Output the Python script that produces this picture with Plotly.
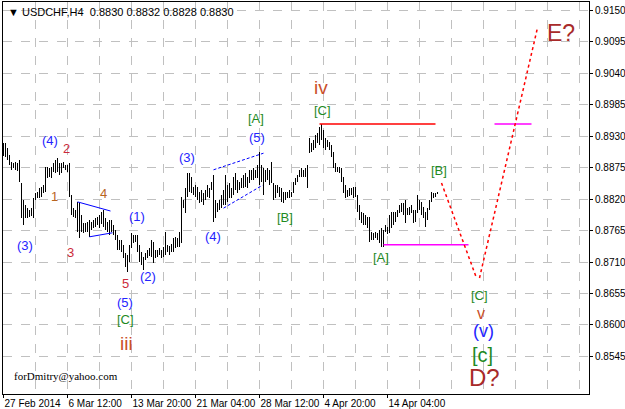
import plotly.graph_objects as go

# ---------------- data (USDCHF H4, bars indexed from 27 Feb 2014 00:00) ----------------
highs = [0.8918, 0.8918, 0.8909, 0.8897, 0.8885, 0.8883, 0.8885, 0.8883, 0.8888, 0.8848,
         0.8818, 0.8810, 0.8804, 0.8801, 0.8804, 0.8822, 0.8830, 0.8832, 0.8839, 0.8841,
         0.8844, 0.8876, 0.8876, 0.8874, 0.8876, 0.8883, 0.8888, 0.8892, 0.8883, 0.8883,
         0.8885, 0.8879, 0.8879, 0.8883, 0.8827, 0.8804, 0.8801, 0.8815, 0.8813, 0.8792,
         0.8778, 0.8778, 0.8780, 0.8783, 0.8780, 0.8783, 0.8787, 0.8789, 0.8792, 0.8797,
         0.8801, 0.8787, 0.8780, 0.8783, 0.8783, 0.8775, 0.8766, 0.8757, 0.8748, 0.8748,
         0.8740, 0.8726, 0.8722, 0.8740, 0.8761, 0.8757, 0.8757, 0.8757, 0.8740, 0.8727,
         0.8719, 0.8726, 0.8731, 0.8734, 0.8748, 0.8745, 0.8731, 0.8731, 0.8734, 0.8731,
         0.8736, 0.8762, 0.8740, 0.8738, 0.8741, 0.8752, 0.8754, 0.8752, 0.8762, 0.8823,
         0.8818, 0.8839, 0.8865, 0.8865, 0.8858, 0.8841, 0.8844, 0.8841, 0.8832, 0.8836,
         0.8830, 0.8836, 0.8844, 0.8839, 0.8850, 0.8862, 0.8818, 0.8813, 0.8818, 0.8827,
         0.8836, 0.8862, 0.8844, 0.8848, 0.8839, 0.8858, 0.8865, 0.8853, 0.8850, 0.8857,
         0.8862, 0.8865, 0.8858, 0.8871, 0.8871, 0.8874, 0.8871, 0.8879, 0.8902, 0.8879,
         0.8874, 0.8871, 0.8874, 0.8871, 0.8885, 0.8848, 0.8844, 0.8844, 0.8841, 0.8839,
         0.8832, 0.8832, 0.8832, 0.8836, 0.8832, 0.8850, 0.8857, 0.8862, 0.8871, 0.8874,
         0.8871, 0.8874, 0.8879, 0.8927, 0.8918, 0.8923, 0.8932, 0.8935, 0.8946, 0.8951,
         0.8940, 0.8927, 0.8923, 0.8920, 0.8914, 0.8902, 0.8883, 0.8876, 0.8876, 0.8874,
         0.8858, 0.8844, 0.8836, 0.8839, 0.8839, 0.8841, 0.8841, 0.8827, 0.8810, 0.8797,
         0.8796, 0.8792, 0.8789, 0.8789, 0.8762, 0.8761, 0.8762, 0.8761, 0.8766, 0.8769,
         0.8766, 0.8775, 0.8771, 0.8792, 0.8797, 0.8797, 0.8797, 0.8801, 0.8810, 0.8813,
         0.8813, 0.8818, 0.8804, 0.8806, 0.8810, 0.8801, 0.8801, 0.8827, 0.8818, 0.8815,
         0.8806, 0.8797, 0.8804, 0.8818, 0.8832, 0.8830, 0.8830, 0.8832]
lows = [0.8895, 0.8893, 0.8888, 0.8879, 0.8871, 0.8874, 0.8871, 0.8869, 0.8850, 0.8787,
        0.8775, 0.8787, 0.8787, 0.8789, 0.8790, 0.8787, 0.8818, 0.8822, 0.8822, 0.8823,
        0.8830, 0.8832, 0.8857, 0.8858, 0.8857, 0.8867, 0.8865, 0.8867, 0.8862, 0.8865,
        0.8874, 0.8871, 0.8867, 0.8823, 0.8792, 0.8789, 0.8787, 0.8762, 0.8752, 0.8762,
        0.8761, 0.8762, 0.8762, 0.8754, 0.8766, 0.8769, 0.8771, 0.8775, 0.8769, 0.8776,
        0.8771, 0.8766, 0.8762, 0.8757, 0.8762, 0.8757, 0.8748, 0.8731, 0.8731, 0.8727,
        0.8717, 0.8701, 0.8692, 0.8710, 0.8734, 0.8743, 0.8745, 0.8727, 0.8710, 0.8705,
        0.8696, 0.8713, 0.8717, 0.8720, 0.8719, 0.8708, 0.8717, 0.8719, 0.8722, 0.8717,
        0.8719, 0.8722, 0.8727, 0.8722, 0.8727, 0.8727, 0.8734, 0.8736, 0.8736, 0.8743,
        0.8804, 0.8796, 0.8823, 0.8832, 0.8830, 0.8827, 0.8823, 0.8818, 0.8813, 0.8815,
        0.8810, 0.8818, 0.8823, 0.8822, 0.8836, 0.8780, 0.8787, 0.8797, 0.8801, 0.8804,
        0.8810, 0.8810, 0.8815, 0.8822, 0.8822, 0.8827, 0.8836, 0.8830, 0.8836, 0.8839,
        0.8839, 0.8841, 0.8839, 0.8848, 0.8853, 0.8853, 0.8857, 0.8857, 0.8844, 0.8850,
        0.8827, 0.8850, 0.8853, 0.8844, 0.8848, 0.8818, 0.8822, 0.8830, 0.8823, 0.8815,
        0.8813, 0.8818, 0.8822, 0.8822, 0.8823, 0.8830, 0.8844, 0.8850, 0.8858, 0.8858,
        0.8858, 0.8858, 0.8839, 0.8900, 0.8902, 0.8906, 0.8909, 0.8918, 0.8914, 0.8923,
        0.8909, 0.8906, 0.8911, 0.8906, 0.8893, 0.8874, 0.8867, 0.8867, 0.8865, 0.8850,
        0.8830, 0.8822, 0.8823, 0.8825, 0.8827, 0.8822, 0.8823, 0.8797, 0.8783, 0.8778,
        0.8775, 0.8775, 0.8769, 0.8745, 0.8748, 0.8748, 0.8752, 0.8748, 0.8743, 0.8736,
        0.8736, 0.8762, 0.8759, 0.8761, 0.8769, 0.8775, 0.8780, 0.8789, 0.8796, 0.8797,
        0.8792, 0.8778, 0.8792, 0.8792, 0.8796, 0.8778, 0.8780, 0.8796, 0.8801, 0.8792,
        0.8787, 0.8771, 0.8783, 0.8801, 0.8815, 0.8822, 0.8823, 0.8828]

date_tick_bars = [0, 32, 64, 96, 128, 160, 192]
date_tick_labels = ["27 Feb 2014", "6 Mar 12:00", "13 Mar 20:00", "21 Mar 04:00",
                    "28 Mar 12:00", "4 Apr 20:00", "14 Apr 04:00"]
price_ticks = [0.8545, 0.8600, 0.8655, 0.8710, 0.8765, 0.8820, 0.8875,
               0.8930, 0.8985, 0.9040, 0.9095, 0.9150]

# drawn objects (bar index, price)
triangle_upper = ([37, 53.5], [0.8815, 0.8799])
triangle_lower = ([43, 54.5], [0.8754, 0.8761])
wedge_upper = ([105, 130], [0.8871, 0.8900])
wedge_lower = ([110, 129.5], [0.8804, 0.8844])
resist_line = ([158, 216], [0.8951, 0.8951])
support_line = ([190, 232.5], [0.8740, 0.8740])
target_line = ([245.5, 264], [0.8951, 0.8951])
proj_down = ([219, 236.5], [0.8848, 0.8682])
proj_up = ([238, 267], [0.8682, 0.9119])

BLUE = "#2424ff"
RED_N = "#cc2a3a"
BROWN_N = "#b8651f"
ROMAN = "#c9502a"
GREEN = "#1f8a1f"
DARK = "#a82a2a"
wave_labels = [
    ("(4)", 23.25, 0.8923, BLUE, 13), ("2", 31.25, 0.8909, RED_N, 13),
    ("1", 25.25, 0.8825, BROWN_N, 13), ("4", 49.75, 0.8830, BROWN_N, 13),
    ("(3)", 10.75, 0.8738, BLUE, 13), ("3", 33.25, 0.8726, RED_N, 13),
    ("(1)", 66.75, 0.8790, BLUE, 13), ("5", 60.75, 0.8673, RED_N, 13),
    ("(2)", 72.25, 0.8684, BLUE, 13), ("(5)", 60.75, 0.8640, BLUE, 13),
    ("[C]", 60.75, 0.8609, GREEN, 13), ("iii", 61.25, 0.8567, ROMAN, 19),
    ("(3)", 91.75, 0.8893, BLUE, 13), ("(4)", 104.75, 0.8755, BLUE, 13),
    ("[A]", 126.25, 0.8960, GREEN, 13), ("(5)", 126.75, 0.8928, BLUE, 13),
    ("[B]", 140.75, 0.8787, GREEN, 13), ("iv", 158.75, 0.9014, ROMAN, 19),
    ("[C]", 159.25, 0.8975, GREEN, 13), ("[A]", 188.75, 0.8717, GREEN, 13),
    ("[B]", 217.75, 0.8869, GREEN, 13), ("[C]", 237.75, 0.8651, GREEN, 13),
    ("v", 238.75, 0.8620, ROMAN, 16), ("(v)", 239.75, 0.8589, BLUE, 18),
    ("[c]", 239.25, 0.8548, GREEN, 20), ("D?", 240.25, 0.8508, DARK, 24),
    ("E?", 278.75, 0.9110, DARK, 23),
]

# ---------------- figure ----------------
idx = list(range(len(highs)))
fig = go.Figure()
fig.add_trace(go.Bar(x=idx, y=[h - l for h, l in zip(highs, lows)], base=lows,
                     width=0.5, marker=dict(color="black", line=dict(width=0)),
                     showlegend=False, hoverinfo="skip"))

def add_line(pts, color, width=1, dash=None):
    fig.add_trace(go.Scatter(x=pts[0], y=pts[1], mode="lines",
                             line=dict(color=color, width=width, dash=dash),
                             showlegend=False, hoverinfo="skip"))

add_line(triangle_upper, "#0000ff")
add_line(triangle_lower, "#0000ff")
add_line(wedge_upper, "#0000ff", dash="3px,2px")
add_line(wedge_lower, "#0000ff", dash="3px,2px")
add_line(resist_line, "#ff0000", width=1.5)
add_line(support_line, "#ff00ff", width=1.5)
add_line(target_line, "#ff00ff", width=1.5)
add_line(proj_down, "#ff0000", width=1.5, dash="3px,3px")
add_line(proj_up, "#ff0000", width=1.5, dash="3px,3px")

for txt, xi, yp, col, sz in wave_labels:
    fig.add_annotation(x=xi, y=yp, text=txt, showarrow=False,
                       font=dict(family="Liberation Sans", size=sz, color=col),
                       xanchor="center", yanchor="middle")

fig.add_annotation(xref="paper", yref="paper", x=0.005, y=0.995, xanchor="left", yanchor="top",
                   text="▼ USDCHF,H4  0.8830 0.8832 0.8828 0.8830", showarrow=False,
                   font=dict(family="Liberation Sans", size=11, color="black"))
fig.add_annotation(xref="paper", yref="paper", x=0.015, y=0.045, xanchor="left", yanchor="middle",
                   text="forDmitry@yahoo.com", showarrow=False,
                   font=dict(family="Liberation Serif", size=11, color="black"))

grid = "#c0c0c0"
fig.update_layout(
    width=625, height=409, margin=dict(l=3, r=36, t=2, b=15, autoexpand=False),
    paper_bgcolor="white", plot_bgcolor="white", bargap=0,
    font=dict(family="Liberation Sans", size=10, color="black"),
    xaxis=dict(range=[-0.25, 292.75], tickmode="array", tickvals=date_tick_bars,
               ticktext=date_tick_labels, ticks="outside", ticklen=3, tickcolor="black",
               tickangle=0, automargin=False,
               ticklabelposition="outside right", showgrid=True, gridcolor=grid,
               griddash="dash", gridwidth=1, showline=True, linecolor="black",
               mirror=True, zeroline=False,
               minor=dict(dtick=16, tick0=0, showgrid=True, gridcolor=grid,
                          griddash="dash", ticks="")),
    yaxis=dict(range=[0.84795, 0.91640], side="right", tickmode="array",
               tickvals=price_ticks, ticktext=[f"{v:.4f}" for v in price_ticks],
               ticks="outside", ticklen=3, tickcolor="black", showgrid=True,
               automargin=False, ticklabelstandoff=0,
               gridcolor=grid, griddash="dash", showline=True, linecolor="black",
               mirror=True, zeroline=False),
)
fig.write_html("out.html", config={"displayModeBar": False},
               post_script="document.body.style.margin='0';document.body.style.overflow='hidden';")
